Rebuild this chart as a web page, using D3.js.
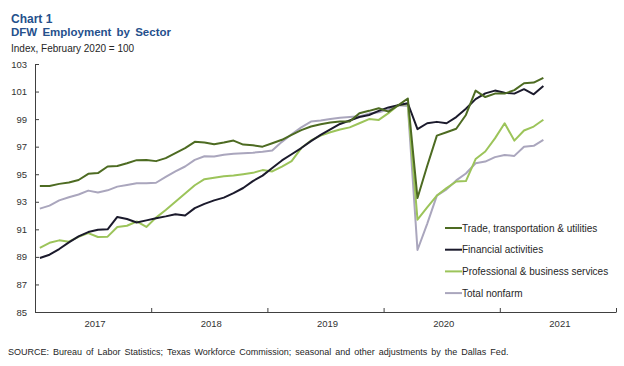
<!DOCTYPE html>
<html>
<head>
<meta charset="utf-8">
<script src="https://cdn.jsdelivr.net/npm/d3@7"></script>
<style>
  body { margin: 0; background: #fff; }
  svg { font-family: "Liberation Sans", Arial, sans-serif; }
</style>
</head>
<body>
<svg width="624" height="366"></svg>
<script>
// years shown on the axis, monthly categories Jan 2017 - Dec 2021
var years = ["2017", "2018", "2019", "2020", "2021"];
var months = [];
years.forEach(function(yr) {
  for (var m = 1; m <= 12; m++) months.push(yr + "-" + m);
});

var yTicks = [85, 87, 89, 91, 93, 95, 97, 99, 101, 103];

// Index, Feb 2020 = 100 ; Jan 2017 - May 2021
var trade = [94.15, 94.15, 94.3, 94.4, 94.58, 95.03, 95.08, 95.56, 95.6, 95.8,
  96.02, 96.04, 95.95, 96.17, 96.53, 96.89, 97.35, 97.3, 97.18, 97.3,
  97.44, 97.15, 97.1, 97.0, 97.25, 97.5, 97.86, 98.2, 98.46, 98.63,
  98.75, 98.82, 98.82, 99.43, 99.6, 99.79, 99.54, 100, 100.5, 93.27,
  95.6, 97.8, 98.05, 98.3, 99.3, 101.07, 100.6, 100.85, 100.85, 101.1,
  101.6, 101.65, 102.0];

var financial = [88.92, 89.16, 89.57, 90.05, 90.49, 90.8, 90.97, 91.0, 91.9, 91.75,
  91.5, 91.65, 91.8, 91.94, 92.1, 92.0, 92.54, 92.85, 93.1, 93.3,
  93.63, 94.0, 94.5, 94.9, 95.45, 96.0, 96.45, 96.9, 97.4, 97.85,
  98.25, 98.65, 98.9, 99.15, 99.3, 99.6, 99.85, 100, 100.15, 98.27,
  98.7, 98.8, 98.7, 99.15, 99.75, 100.45, 100.87, 101.07, 100.92, 100.85,
  101.17, 100.8, 101.4];

var professional = [89.65, 90.02, 90.2, 90.1, 90.46, 90.73, 90.44, 90.47, 91.17, 91.26,
  91.57, 91.17, 91.85, 92.4, 93.0, 93.6, 94.2, 94.64, 94.75, 94.85,
  94.9, 95.0, 95.1, 95.3, 95.2, 95.55, 95.95, 96.9, 97.45, 97.8,
  98.05, 98.25, 98.4, 98.7, 99.0, 98.94, 99.43, 100, 100.1, 91.7,
  92.6, 93.45, 93.99, 94.47, 94.5, 96.1, 96.65, 97.6, 98.7, 97.44,
  98.17, 98.46, 98.95];

var totalNonfarm = [92.5, 92.72, 93.1, 93.33, 93.53, 93.81, 93.68, 93.83, 94.1, 94.22,
  94.35, 94.35, 94.38, 94.8, 95.2, 95.56, 96.04, 96.3, 96.28, 96.42,
  96.48, 96.52, 96.56, 96.63, 96.72, 97.35, 97.9, 98.4, 98.82, 98.9,
  99.0, 99.1, 99.15, 99.2, 99.4, 99.5, 99.7, 100, 99.95, 89.5,
  91.4, 93.45, 93.9, 94.55, 95.05, 95.8, 95.92, 96.24, 96.4, 96.33,
  97.0, 97.06, 97.5];

var series = [
  { name: "Trade, transportation & utilities", values: trade, color: "#4d6b22" },
  { name: "Financial activities", values: financial, color: "#1b1a2c" },
  { name: "Professional & business services", values: professional, color: "#9cc45a" },
  { name: "Total nonfarm", values: totalNonfarm, color: "#aaa6bd" }
];

var svg = d3.select("svg");
var plotLeft = 35, plotRight = 616, plotTop = 64, plotBottom = 312;

var x = d3.scaleBand().domain(months).range([plotLeft, plotRight]);
var xYear = d3.scaleBand().domain(years).range([plotLeft, plotRight]);
var xEdge = d3.scaleLinear().domain([0, years.length]).range([plotLeft, plotRight]);
var y = d3.scaleLinear().domain([85, 103]).range([plotBottom, plotTop]);

// titles
svg.append("text").attr("x", 11).attr("y", 22.5)
  .attr("font-size", 12).attr("font-weight", "bold").attr("fill", "#25508c")
  .text("Chart 1");
svg.append("text").attr("x", 11).attr("y", 35.5)
  .attr("font-size", 11.5).attr("font-weight", "bold").attr("fill", "#25508c")
  .attr("word-spacing", 2)
  .text("DFW Employment by Sector");
svg.append("text").attr("x", 11).attr("y", 52)
  .attr("font-size", 10).attr("fill", "#262626")
  .text("Index, February 2020 = 100");

// y axis
var yAxis = svg.append("g")
  .attr("transform", "translate(" + plotLeft + ",0)")
  .call(d3.axisLeft(y).tickValues(yTicks).tickSizeInner(-4).tickSizeOuter(0).tickPadding(8));
yAxis.select(".domain").attr("stroke", "#404040");
yAxis.selectAll(".tick line").attr("stroke", "#404040");
yAxis.selectAll("text").attr("font-size", 9.5).attr("fill", "#333").attr("font-family", null);

// x axis: line + ticks at year boundaries
var xAxis = svg.append("g")
  .attr("transform", "translate(0," + plotBottom + ")")
  .call(d3.axisBottom(xEdge).tickValues(d3.range(1, years.length + 1))
    .tickSizeInner(-4).tickSizeOuter(0).tickFormat(""));
xAxis.select(".domain").attr("stroke", "#404040");
xAxis.selectAll(".tick line").attr("stroke", "#404040");

svg.selectAll(".year")
  .data(years)
  .enter().append("text")
  .attr("class", "year")
  .attr("x", function(d) { return xYear(d) + xYear.bandwidth() / 2 + 2; })
  .attr("y", plotBottom + 15)
  .attr("text-anchor", "middle")
  .attr("font-size", 9.5)
  .attr("fill", "#333")
  .text(function(d) { return d; });

// lines
var line = d3.line()
  .x(function(d, i) { return x(months[i]) + x.bandwidth() / 2; })
  .y(function(d) { return y(d); });

svg.selectAll(".series")
  .data(series.slice().reverse())
  .enter().append("path")
  .attr("class", "series")
  .attr("fill", "none")
  .attr("stroke", function(d) { return d.color; })
  .attr("stroke-width", 2)
  .attr("stroke-linejoin", "round")
  .attr("d", function(d) { return line(d.values); });

// legend
var legend = svg.selectAll(".legend")
  .data(series)
  .enter().append("g")
  .attr("class", "legend")
  .attr("transform", function(d, i) { return "translate(445," + (228 + i * 21.7) + ")"; });

legend.append("line")
  .attr("x1", 0).attr("x2", 17)
  .attr("stroke", function(d) { return d.color; })
  .attr("stroke-width", 2);

legend.append("text")
  .attr("x", 17).attr("y", 3.6)
  .attr("font-size", 10)
  .attr("fill", "#262626")
  .text(function(d) { return d.name; });

// source
svg.append("text").attr("x", 8).attr("y", 355)
  .attr("font-size", 9).attr("fill", "#262626")
  .attr("word-spacing", 1.5)
  .text("SOURCE: Bureau of Labor Statistics; Texas Workforce Commission; seasonal and other adjustments by the Dallas Fed.");
</script>
</body>
</html>
